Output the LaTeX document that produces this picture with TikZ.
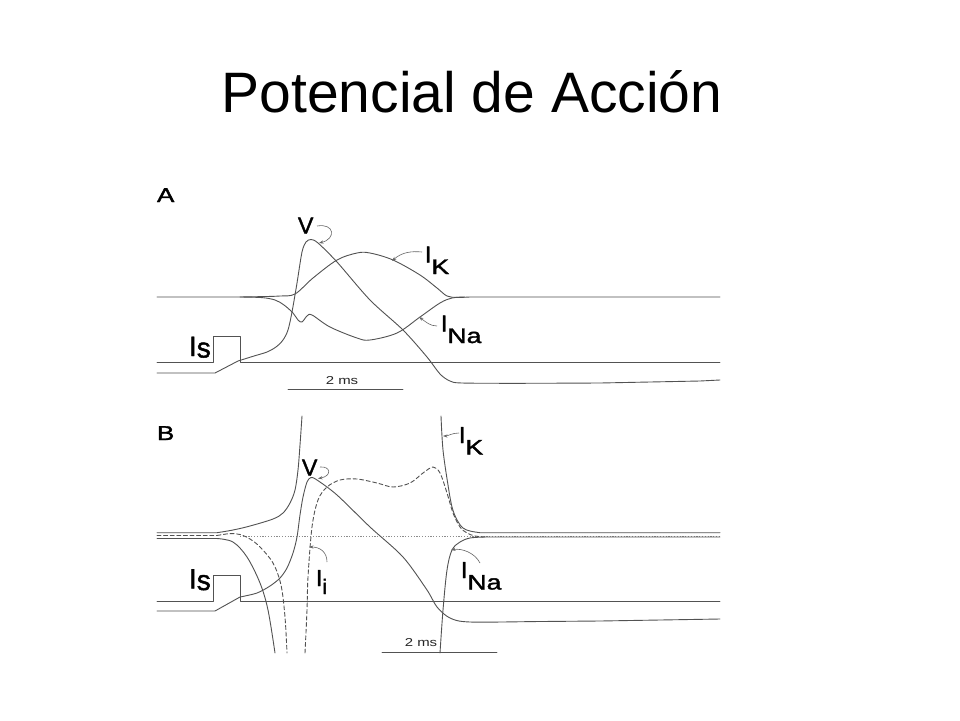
\documentclass[tikz,border=0pt]{standalone}
\usepackage{fontspec}
\setmainfont{Liberation Sans}
\newfontfamily\labfont[FakeBold=1.6]{Liberation Sans}
\usetikzlibrary{arrows.meta}
\tikzset{
  trace/.style={draw=black!68, line width=0.9pt, line join=round, line cap=round},
  dtrace/.style={trace, dash pattern=on 4pt off 2.6pt},
  dotline/.style={draw=black!45, line width=0.5pt, dash pattern=on 1.2pt off 1.6pt},
  arr/.style={draw=black!60, line width=0.6pt, -{Stealth[length=4.5pt,width=3.2pt]}},
  lab/.style={inner sep=0pt, outer sep=0pt, font=\labfont\fontsize{23}{23}\selectfont, text=black},
  isl/.style={inner sep=0pt, outer sep=0pt, font=\labfont\fontsize{28}{28}\selectfont, text=black},
  small/.style={inner sep=0pt, outer sep=0pt, font=\fontsize{11.5}{11.5}\selectfont, text=black!85},
  panel/.style={inner sep=0pt, outer sep=0pt, font=\labfont\fontsize{20}{20}\selectfont, text=black},
}
\newcommand{\subl}[1]{\raisebox{-11.5pt}{\fontsize{21}{21}\selectfont\scalebox{1.27}[1]{#1}}}
\begin{document}
\begin{tikzpicture}[x=1pt,y=-1pt]
\useasboundingbox[fill=white] (0,0) rectangle (960,720);

% Title
\node[inner sep=0pt, anchor=base, font=\fontsize{57}{57}\selectfont] (title) at (472,112) {Potencial de Acción};

% ================= Panel A =================
\node[panel, anchor=base west] (pa) at (157,202) {\scalebox{1.3}[1]{A}};

% stimulus A
\draw[trace] (157,362) -- (213,362) -- (213,336) -- (240,336) -- (240,362) -- (720,362);
% I_K A
\draw[trace] (157,297) -- (240,297) plot[smooth, tension=0.55] coordinates {(240,297) (262,296.6) (280,296) (295,294) (313,278) (337,260) (357,253) (370,253) (393,260) (420,275) (437,288) (447,296) (457,297.4) (470,297)} -- (720,297);
% I_Na A
\draw[trace] plot[smooth, tension=0.55] coordinates {(240,297) (262,297.6) (275,300) (284,305) (293,313) (298,320) (302,322) (307,316) (312,315) (330,327) (357,338) (370,340) (397,333) (420,317) (440,303) (452,298) (465,297)};
% V A
\draw[trace] (157,373) -- (215,373) -- (238,361) plot[smooth, tension=0.5] coordinates {(238,361) (254,356) (267,352) (276,347) (283,340) (288,330) (292,312) (297,283) (302,252) (306,242) (311,239.5) (318,243) (337,262) (370,300) (403,330) (427,357) (440,374) (450,381) (462,383) (520,383.3) (600,383)} -- (700,381) -- (720,380);
% scale A
\coordinate (sa1) at (288,389);
\coordinate (sa2) at (403,389);
\draw[trace, line width=0.8pt] (sa1) -- (sa2);
\node[small] (msa) at (342,380.5) {\scalebox{1.3}[1]{2 ms}};

% labels A
\node[isl, anchor=base west] (isa) at (189,356) {I\raisebox{-1.5pt}{s}};
\node[lab, anchor=base west] (va) at (298,233.5) {V};
\coordinate (vat) at (319,243);
\draw[arr] (317,226) .. controls (335,223) and (336,239) .. (vat);
\node[lab, anchor=base west] (ika) at (425,262.5) {I\subl{K}};
\coordinate (ikat) at (392,261);
\draw[arr] (422,252) .. controls (412,251) and (402,252) .. (ikat);
\node[lab, anchor=base west] (inaa) at (441,331.5) {I\subl{Na}};
\coordinate (inaat) at (419,317);
\draw[arr] (437,326) .. controls (430,326) and (426,322) .. (inaat);

% ================= Panel B =================
\node[panel, anchor=base west] (pb) at (157,440) {\scalebox{1.3}[1]{B}};

% dotted zero line
\draw[dotline] (240,536.5) -- (720,536.5);
% stimulus B
\draw[trace] (157,601) -- (213,601) -- (213,575) -- (240.7,575) -- (240.7,601) -- (720,601);
% I_K B
\draw[trace] (157,532.7) -- (217,532.7) plot[smooth, tension=0.55] coordinates {(217,532.7) (233,530) (250,526) (273,519) (283,513) (290,503) (295,490) (298,470) (300,445) (302,416)};
\draw[trace] plot[smooth, tension=0.55] coordinates {(441,416) (443,450) (448,485) (452,507) (457,520) (463,528) (470,531) (480,532.7)} -- (720,532.7);
% I_i B (dashed)
\draw[dtrace] (157,535.5) -- (217,535.5) plot[smooth, tension=0.55] coordinates {(217,535.5) (230,533.6) (240,534.5) (250,539) (260,547) (273,563) (281,585) (285,617) (287,653)};
\draw[dtrace] plot[smooth, tension=0.55] coordinates {(305,653) (307,610) (308,577) (312,527) (318,500) (327,487) (340,480) (357,479) (377,483) (393,487) (410,483) (423,473) (433,467) (440,473) (447,493) (453,513) (460,527) (467,533) (475,536) (485,537)};
% I_Na B
\draw[trace] (157,538.5) -- (217,538.5) plot[smooth, tension=0.55] coordinates {(217,538.5) (233,542) (247,557) (260,583) (268,610) (275,653)};
\draw[trace] plot[smooth, tension=0.55] coordinates {(440,653) (443,610) (447,570) (452,550) (460,542) (470,538) (485,537)} -- (720,537);
% V B
\draw[trace] (157,611) -- (215,611) -- (240,597) plot[smooth, tension=0.5] coordinates {(240,597) (257,593) (270,586) (280,578) (287,568) (293,553) (297,537) (300,515) (303,497) (307,482) (311,477.5) (317,480) (337,495) (370,527) (403,557) (427,590) (437,607) (450,618) (470,622) (540,621.5) (600,621)} -- (720,619);
% scale B
\coordinate (sb1) at (382,652);
\coordinate (sb2) at (497,652);
\draw[trace, line width=0.8pt] (sb1) -- (sb2);
\node[small] (msb) at (421,643) {\scalebox{1.3}[1]{2 ms}};

% labels B
\node[isl, anchor=base west] (isb) at (189,588.5) {I\raisebox{-1.5pt}{s}};
\node[lab, anchor=base west] (vb) at (302,475.5) {V};
\coordinate (vbt) at (318,478.5);
\draw[arr] (320,467) .. controls (331,466) and (332,476) .. (vbt);
\node[lab, anchor=base west] (iib) at (316,586) {I\raisebox{-8pt}{\fontsize{21}{21}\selectfont i}};
\coordinate (iibt) at (309,547);
\draw[arr] (327,562) .. controls (327,552) and (320,547) .. (iibt);
\node[lab, anchor=base west] (ikb) at (459,443) {I\subl{K}};
\coordinate (ikbt) at (443,436);
\draw[arr] (459,433) .. controls (452,433) and (448,436) .. (ikbt);
\node[lab, anchor=base west] (inab) at (461,578) {I\subl{Na}};
\coordinate (inabt) at (451,550);
\draw[arr] (480,563) .. controls (475,553) and (462,548) .. (inabt);

\end{tikzpicture}
\end{document}
